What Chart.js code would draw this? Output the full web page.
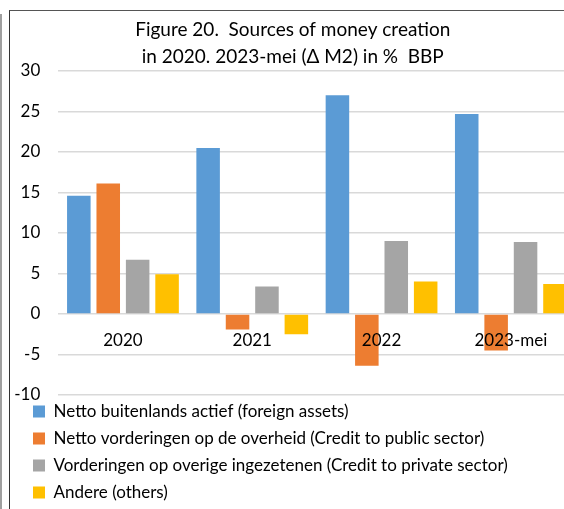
<!DOCTYPE html>
<html>
<head>
<meta charset="utf-8">
<script src="https://cdn.jsdelivr.net/npm/chart.js@4"></script>
<style>
  html, body { margin: 0; padding: 0; background: #fff; overflow: hidden; }
  body { width: 564px; height: 509px; position: relative; }
  #edge { position: absolute; left: 0; top: 14px; width: 2px; height: 500px; background: #a0a0a0; }
  #frame { position: absolute; left: 9px; top: 10px; width: 600px; height: 520px;
           border-left: 1px solid #333; border-top: 1px solid #555; }
  #wrap { position: absolute; left: 10px; top: 11px; width: 567px; height: 502px; }
</style>
</head>
<body>
<div id="edge"></div>
<div id="frame"></div>
<div id="wrap"><canvas id="moneyChart"></canvas></div>
<script>
const categories = ['2020', '2021', '2022', '2023-mei'];
const foreignAssets = [14.6, 20.5, 27.0, 24.7];
const publicSector = [16.1, -1.9, -6.4, -4.5];
const privateSector = [6.7, 3.4, 9.0, 8.9];
const others = [4.9, -2.5, 4.0, 3.7];
const seriesNames = [
    'Netto buitenlands actief (foreign assets)',
    'Netto vorderingen op de overheid (Credit to public sector)',
    'Vorderingen op overige ingezetenen (Credit to private sector)',
    'Andere (others)'
];
const seriesColors = ['#5B9BD5', '#ED7D31', '#A5A5A5', '#FFC000'];
const titleLines = ['Figure 20.  Sources of money creation', 'in 2020. 2023-mei (\u0394 M2) in %  BBP'];

const fontFamily = 'Lato, "Open Sans", sans-serif';
Chart.defaults.font.family = fontFamily;
Chart.defaults.color = '#000';

// the legend sits indented under the plot, like the Excel original
const legendShift = {
    id: 'legendShift',
    afterLayout(chart) {
        chart.legend.left += 13;
        chart.legend.top -= 2;
    }
};

const ctx = document.getElementById('moneyChart').getContext('2d');
const moneyChart = new Chart(ctx, {
    type: 'bar',
    data: {
        labels: categories,
        datasets: [foreignAssets, publicSector, privateSector, others].map((values, i) => ({
            label: seriesNames[i],
            data: values,
            backgroundColor: seriesColors[i],
            borderWidth: 0,
            categoryPercentage: 0.91,
            barPercentage: 0.8
        }))
    },
    options: {
        responsive: true,
        maintainAspectRatio: false,
        animation: false,
        layout: { padding: { left: 0, right: 1.5, top: 0, bottom: 0 } },
        plugins: {
            title: {
                display: true,
                text: titleLines,
                color: '#000',
                font: { size: 19, weight: 'normal', lineHeight: 1.42 },
                padding: { top: 5.5, bottom: 0.5 }
            },
            legend: {
                position: 'bottom',
                align: 'start',
                labels: {
                    boxWidth: 12,
                    boxHeight: 12,
                    padding: 10,
                    color: '#000',
                    font: { size: 17 }
                }
            },
            tooltip: { enabled: false }
        },
        scales: {
            x: {
                position: { y: 0 },
                grid: { display: false, drawTicks: false },
                border: { display: false },
                ticks: { z: 1, padding: 16, font: { size: 17 }, color: '#000' }
            },
            y: {
                min: -10,
                max: 30,
                ticks: { stepSize: 5, padding: 18, font: { size: 17 }, color: '#000' },
                grid: { color: '#d9d9d9', lineWidth: 1.5, drawTicks: false },
                border: { display: false },
                afterFit: scale => { scale.width = 48.3; }
            }
        }
    },
    plugins: [legendShift]
});
</script>
</body>
</html>
